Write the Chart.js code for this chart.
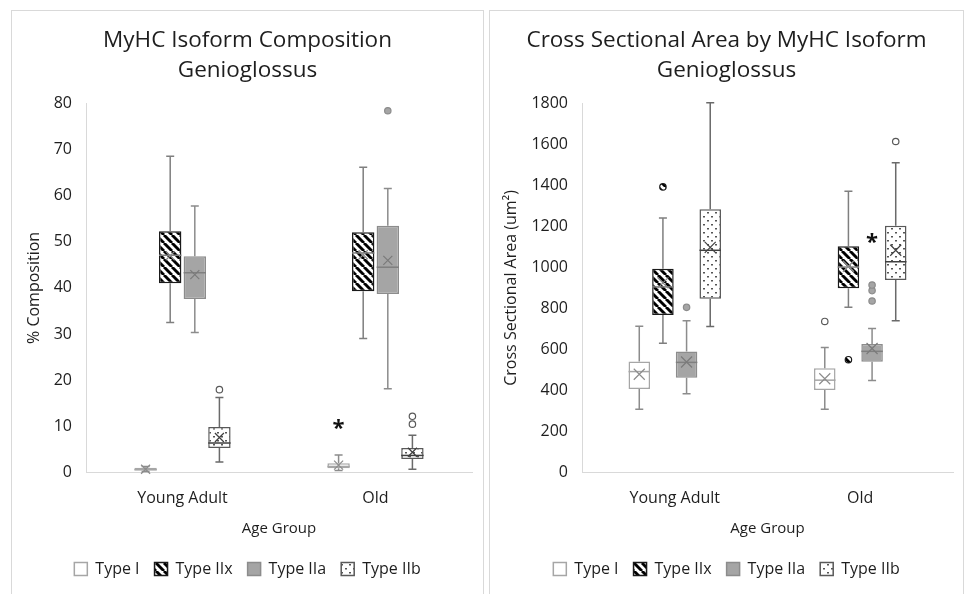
<!DOCTYPE html>
<html>
<head>
<meta charset="utf-8">
<script src="https://cdn.jsdelivr.net/npm/chart.js@4"></script>
<style>
  html, body { margin:0; padding:0; background:#fff; }
  .panel { position:absolute; border:1px solid #d9d9d9; box-sizing:border-box; background:#fff; }
  #p1 { left:11px; top:10px; width:473px; height:590px; }
  #p2 { left:489px; top:10px; width:475px; height:590px; }
  canvas { position:absolute; left:0; top:0; }
</style>
</head>
<body>
<div class="panel" id="p1"><canvas id="c1" width="471" height="588"></canvas></div>
<div class="panel" id="p2"><canvas id="c2" width="473" height="588"></canvas></div>
<script>
// ---------- shared categories / series ----------
const categories = ['Young Adult', 'Old'];
const seriesNames = ['Type I', 'Type IIx', 'Type IIa', 'Type IIb'];

// ---------- Chart 1: % composition (rows = series, cols = [Young Adult, Old]) ----------
const compMin    = [[0.1, 0.3], [32.5, 29.0], [30.3, 18.1], [2.2, 0.6]];
const compQ1     = [[0.3, 0.8], [41.0, 39.3], [37.6, 38.7], [5.2, 2.8]];
const compMedian = [[0.5, 1.2], [47.1, 47.6], [43.3, 44.5], [6.3, 3.6]];
const compQ3     = [[0.9, 1.9], [52.3, 52.1], [46.9, 53.5], [9.8, 5.2]];
const compMax    = [[1.2, 3.7], [68.6, 66.2], [57.8, 61.6], [16.2, 8.0]];
const compMean   = [[0.6, 1.5], [47.0, 47.2], [42.9, 46.0], [7.5, 4.3]];
const compOutliers = [[[], []], [[], []], [[], [78.5]], [[17.9], [10.4, 12.1]]];
const compStars  = [[null, 10.3], [null, null], [null, null], [null, null]];
const compTicks  = { min: 0, max: 80, step: 10 };

// ---------- Chart 2: cross sectional area ----------
const csaMin    = [[307, 307], [629, 806], [382, 447], [711, 739]];
const csaQ1     = [[406, 401], [768, 898], [461, 539], [847, 939]];
const csaMedian = [[491, 449], [905, 1002], [536, 590], [1084, 1028]];
const csaQ3     = [[540, 507], [994, 1104], [589, 626], [1285, 1204]];
const csaMax    = [[713, 609], [1242, 1373], [739, 702], [1805, 1512]];
const csaMean   = [[478, 456], [925, 1006], [538, 604], [1098, 1084]];
const csaOutliers = [[[], [736]], [[1394], [549]], [[805], [836, 887, 914]], [[], [1616]]];
const csaStars  = [[null, null], [null, null], [null, 1142], [null, null]];
const csaTicks  = { min: 0, max: 1800, step: 200 };

// ---------- styles ----------
const FONT = "'Open Sans', 'DejaVu Sans', sans-serif";
const TEXT = '#1e1e1e';

function stripePattern() {
  const c = document.createElement('canvas'); c.width = 8; c.height = 8;
  const g = c.getContext('2d');
  g.fillStyle = '#ffffff'; g.fillRect(0, 0, 8, 8);
  g.strokeStyle = '#000000'; g.lineWidth = 2.9;
  g.beginPath();
  for (let k = -8; k <= 8; k += 8) { g.moveTo(k, 0); g.lineTo(k + 8, 8); }
  g.stroke();
  return g.createPattern(c, 'repeat');
}
function dotPattern() {
  const c = document.createElement('canvas'); c.width = 8; c.height = 8;
  const g = c.getContext('2d');
  g.fillStyle = '#ffffff'; g.fillRect(0, 0, 8, 8);
  g.fillStyle = '#555555';
  g.fillRect(1, 1, 2, 1.5);
  g.fillRect(5, 5, 2, 1.5);
  return g.createPattern(c, 'repeat');
}
const stripes = stripePattern();
const dots = dotPattern();

const fills    = ['#ffffff', stripes, '#a5a5a5', dots];
const borders  = ['#a6a6a6', '#1a1a1a', '#8c8c8c', '#595959'];
const whiskerC = ['#8c8c8c', '#7f7f7f', '#8c8c8c', '#6a6a6a'];
const medianC  = ['#a6a6a6', '#7f7f7f', '#7f7f7f', '#404040'];
const meanC    = ['#8c8c8c', '#8c8c8c', '#7a7a7a', '#404040'];
const outFill  = ['#ffffff', stripes, '#a5a5a5', '#ffffff'];
const outStroke= ['#595959', '#1a1a1a', '#8c8c8c', '#595959'];

// ---------- box plot extras plugin (whiskers, medians, means, outliers, stars) ----------
const boxExtras = {
  id: 'boxExtras',
  afterDatasetsDraw(chart, args, o) {
    const ctx = chart.ctx, y = chart.scales.y;
    ctx.save();
    chart.data.datasets.forEach((ds, di) => {
      const meta = chart.getDatasetMeta(di);
      meta.data.forEach((bar, ci) => {
        const cx = bar.x, hw = bar.width / 2;
        const py = v => y.getPixelForValue(v);
        const pq1 = py(o.q1[di][ci]), pq3 = py(o.q3[di][ci]);
        const pmin = py(o.min[di][ci]), pmax = py(o.max[di][ci]);
        // whiskers
        ctx.strokeStyle = whiskerC[di]; ctx.lineWidth = 1.5;
        ctx.beginPath();
        ctx.moveTo(cx, pq3); ctx.lineTo(cx, pmax);
        ctx.moveTo(cx - 4, pmax); ctx.lineTo(cx + 4, pmax);
        ctx.moveTo(cx, pq1); ctx.lineTo(cx, pmin);
        ctx.moveTo(cx - 4, pmin); ctx.lineTo(cx + 4, pmin);
        ctx.stroke();
        // median
        const pmed = py(o.median[di][ci]);
        ctx.strokeStyle = medianC[di]; ctx.lineWidth = 1.5;
        ctx.beginPath(); ctx.moveTo(cx - hw, pmed); ctx.lineTo(cx + hw, pmed); ctx.stroke();
        // mean X
        const pm = py(o.mean[di][ci]), s = o.xSize;
        ctx.strokeStyle = meanC[di]; ctx.lineWidth = 1.2;
        ctx.beginPath();
        ctx.moveTo(cx - s, pm - s); ctx.lineTo(cx + s, pm + s);
        ctx.moveTo(cx + s, pm - s); ctx.lineTo(cx - s, pm + s);
        ctx.stroke();
        // outliers
        o.outliers[di][ci].forEach(v => {
          ctx.beginPath(); ctx.arc(cx, py(v), 3.2, 0, Math.PI * 2);
          ctx.fillStyle = outFill[di]; ctx.fill();
          ctx.strokeStyle = outStroke[di]; ctx.lineWidth = 1.2; ctx.stroke();
        });
        // significance star
        const st = o.stars[di][ci];
        if (st !== null) {
          ctx.fillStyle = '#111';
          ctx.font = "bold 22px " + FONT;
          ctx.textAlign = 'center'; ctx.textBaseline = 'middle';
          ctx.fillText('*', cx, py(st) + 4);
        }
      });
    });
    ctx.restore();
  }
};

function makeChart(id, titleLines, yTitle, q1, q3, stats, ticks, yWidth, padSide) {
  const datasets = seriesNames.map((name, di) => ({
    label: name,
    data: categories.map((_, ci) => [q1[di][ci], q3[di][ci]]),
    backgroundColor: fills[di],
    borderColor: borders[di],
    borderWidth: 1.5,
    borderSkipped: false,
    categoryPercentage: 0.51,
    barPercentage: 0.91
  }));
  return new Chart(document.getElementById(id), {
    type: 'bar',
    data: { labels: categories, datasets },
    plugins: [boxExtras],
    options: {
      responsive: false,
      animation: false,
      devicePixelRatio: 1,
      layout: { padding: { left: padSide, right: padSide, top: 0, bottom: 12 } },
      plugins: {
        tooltip: { enabled: false },
        title: {
          display: true, text: titleLines, color: TEXT,
          font: { family: FONT, size: 22.5, weight: 'normal', lineHeight: 1.33 },
          padding: { top: 15, bottom: 18 }
        },
        legend: {
          position: 'bottom',
          labels: { boxWidth: 13, boxHeight: 13, padding: 15, color: TEXT,
                    font: { family: FONT, size: 16 } }
        },
        boxExtras: Object.assign({ q1, q3 }, stats)
      },
      scales: {
        x: {
          grid: { drawOnChartArea: false, drawTicks: false },
          border: { color: '#d9d9d9', width: 1 },
          ticks: { padding: 17, color: TEXT, font: { family: FONT, size: 16 } },
          title: { display: true, text: 'Age Group', color: TEXT,
                   font: { family: FONT, size: 15 }, padding: { top: 0, bottom: 8 } },
          afterFit(scale) { scale.height = 74; }
        },
        y: {
          min: ticks.min, max: ticks.max,
          grid: { drawOnChartArea: false, drawTicks: false },
          border: { color: '#d9d9d9', width: 1 },
          ticks: { stepSize: ticks.step, padding: 14, color: TEXT,
                   format: { useGrouping: false },
                   font: { family: FONT, size: 16 } },
          title: { display: true, text: yTitle, color: TEXT,
                   font: { family: FONT, size: 16 }, padding: { top: 2, bottom: 0 } },
          afterFit(scale) { scale.width = yWidth; }
        }
      }
    }
  });
}

makeChart('c1', ['MyHC Isoform Composition', 'Genioglossus'], '% Composition',
  compQ1, compQ3,
  { min: compMin, max: compMax, median: compMedian, mean: compMean,
    outliers: compOutliers, stars: compStars, xSize: 4.5 },
  compTicks, 63, 11);

makeChart('c2', ['Cross Sectional Area by MyHC Isoform', 'Genioglossus'], 'Cross Sectional Area (um²)',
  csaQ1, csaQ3,
  { min: csaMin, max: csaMax, median: csaMedian, mean: csaMean,
    outliers: csaOutliers, stars: csaStars, xSize: 5.5 },
  csaTicks, 82, 10);
</script>
</body>
</html>
